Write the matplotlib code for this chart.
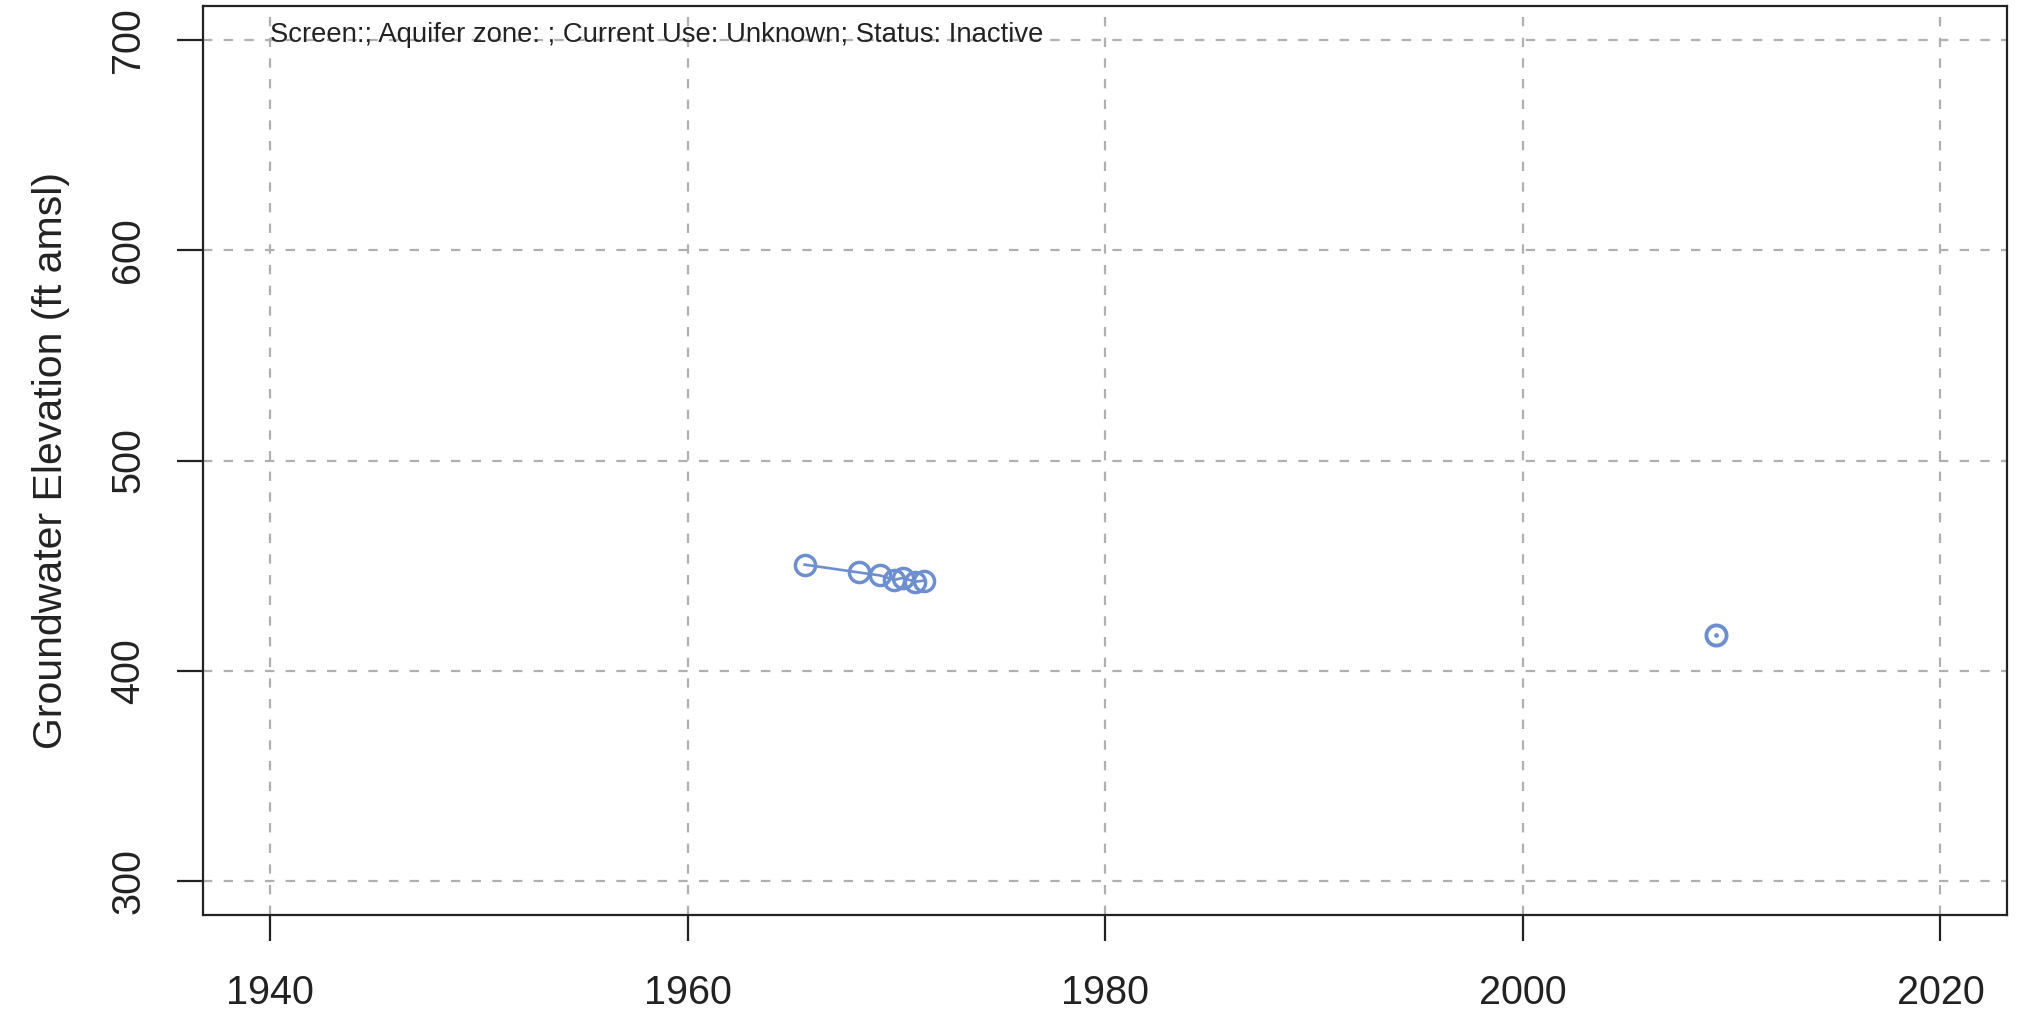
import matplotlib.pyplot as plt

plt.rcParams["font.family"] = ["Liberation Sans", "DejaVu Sans"]

# groundwater level observations (decimal year, ft amsl)
years_early = [1965.6, 1968.2, 1969.2, 1969.9, 1970.3, 1970.9, 1971.3]
elev_early = [450.5, 446.8, 445.4, 443.3, 444.2, 442.4, 442.9]
years_late = [2009.25]
elev_late = [417.2]

xticks = [1940, 1960, 1980, 2000, 2020]
yticks = [300, 400, 500, 600, 700]
info = "Screen:; Aquifer zone: ; Current Use: Unknown; Status: Inactive"

col = "#6E8FCF"
grid_col = "#b0b0b0"

fig = plt.figure(figsize=(20.21, 10.16), dpi=100)
ax = fig.add_axes([0.1006, 0.0994, 0.8926, 0.8947])

ax.set_xlim(1936.8, 2023.2)
ax.set_ylim(284, 716)

for x in xticks:
    ax.axvline(x, color=grid_col, lw=1.6, ls=(0, (4.2, 5.1)), zorder=1)
for y in yticks:
    ax.axhline(y, color=grid_col, lw=1.6, ls=(0, (4.2, 5.1)), zorder=1)

ax.plot(years_early, elev_early, color=col, lw=1.9, marker="o", ms=14.5,
        mfc="none", mec=col, mew=2.5, zorder=3)
ax.plot(years_late, elev_late, ls="none", marker="o", ms=14.5,
        mfc="none", mec=col, mew=2.8, zorder=3)
ax.plot(years_late, elev_late, ls="none", marker="o", ms=2.4,
        color=col, zorder=3)

ax.text(1940, 699, info, fontsize=19.8, ha="left", va="baseline",
        color="#222222", zorder=4)

ax.set_xticks(xticks)
ax.set_yticks(yticks)
ax.set_yticklabels([str(v) for v in yticks], rotation=90, va="center")
ax.tick_params(axis="both", direction="out", length=18.5, width=1.6,
               color="#222222", labelsize=28.5, labelcolor="#222222")
ax.tick_params(axis="x", pad=24)
ax.tick_params(axis="y", pad=22)

for s in ax.spines.values():
    s.set_linewidth(1.6)
    s.set_color("#222222")

ax.set_ylabel("Groundwater Elevation (ft amsl)", fontsize=29.5, color="#222222",
              labelpad=28)

fig.savefig("out.png", dpi=100)
